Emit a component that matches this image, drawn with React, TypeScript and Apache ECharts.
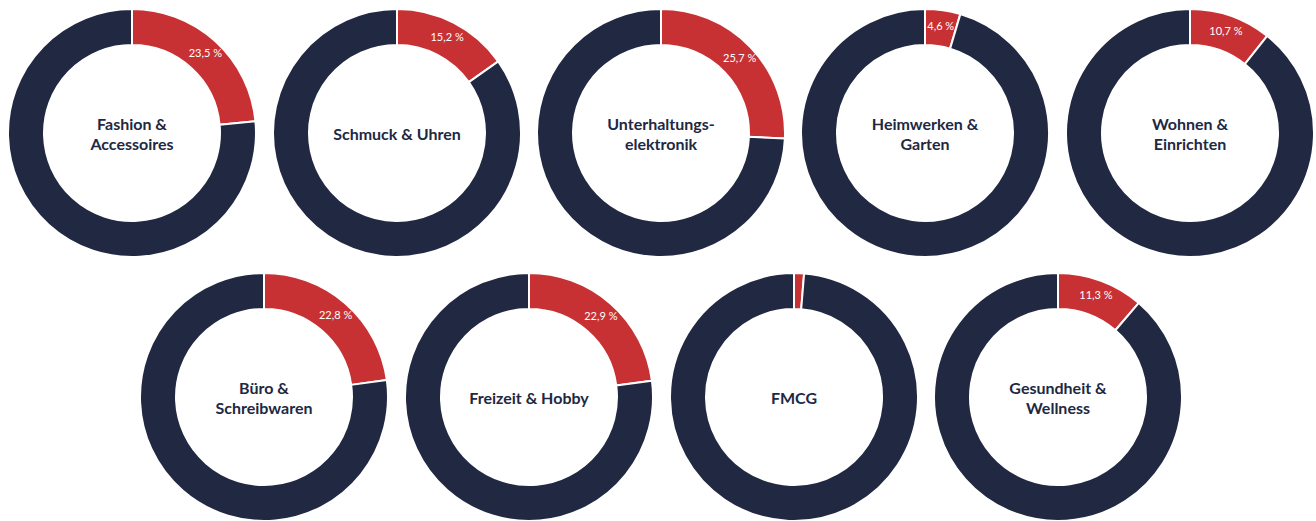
import React, { useEffect, useRef } from "react";
import * as echarts from "echarts";

const categories = [
  "Fashion &\nAccessoires",
  "Schmuck & Uhren",
  "Unterhaltungs-\nelektronik",
  "Heimwerken &\nGarten",
  "Wohnen &\nEinrichten",
  "Büro &\nSchreibwaren",
  "Freizeit & Hobby",
  "FMCG",
  "Gesundheit &\nWellness",
];
const shares = [23.5, 15.2, 25.7, 4.6, 10.7, 22.8, 22.9, 1.3, 11.3];
const showShareLabel = [true, true, true, true, true, true, true, false, true];

const centers: [number, number][] = [
  [132, 133], [397, 133], [661, 133], [925, 133], [1190, 133],
  [264, 397], [529, 397], [794, 397], [1058, 397],
];

const RED = "#c83133";
const NAVY = "#212842";

export default function App() {
  const ref = useRef<HTMLDivElement>(null);
  useEffect(() => {
    document.body.style.margin = "0";
    if (!ref.current) return;
    const chart = echarts.init(ref.current, undefined, { renderer: "svg" });
    const series = categories.map((name, i) => ({
      type: "pie",
      name,
      center: centers[i],
      radius: [88, 124],
      startAngle: 90,
      clockwise: true,
      avoidLabelOverlap: false,
      labelLine: { show: false },
      emphasis: { disabled: true },
      itemStyle: { borderColor: "#ffffff", borderWidth: 2 },
      data: [
        {
          value: shares[i],
          name: "share",
          itemStyle: { color: RED },
          label: {
            show: showShareLabel[i],
            position: "inside",
            color: "#ffffff",
            fontFamily: "Lato",
            fontSize: 11,
            formatter: () => shares[i].toFixed(1).replace(".", ",") + " %",
          },
        },
        {
          value: 100 - shares[i],
          name: "rest",
          itemStyle: { color: NAVY },
          label: {
            show: true,
            position: "center",
            color: NAVY,
            fontFamily: "Lato",
            fontWeight: "bold",
            fontSize: 16,
            lineHeight: 20,
            formatter: () => name,
          },
        },
      ],
    }));
    chart.setOption({
      animation: false,
      backgroundColor: "#ffffff",
      tooltip: { show: false },
      series,
    });
    return () => chart.dispose();
  }, []);
  return <div ref={ref} style={{ width: 1316, height: 521 }} />;
}
